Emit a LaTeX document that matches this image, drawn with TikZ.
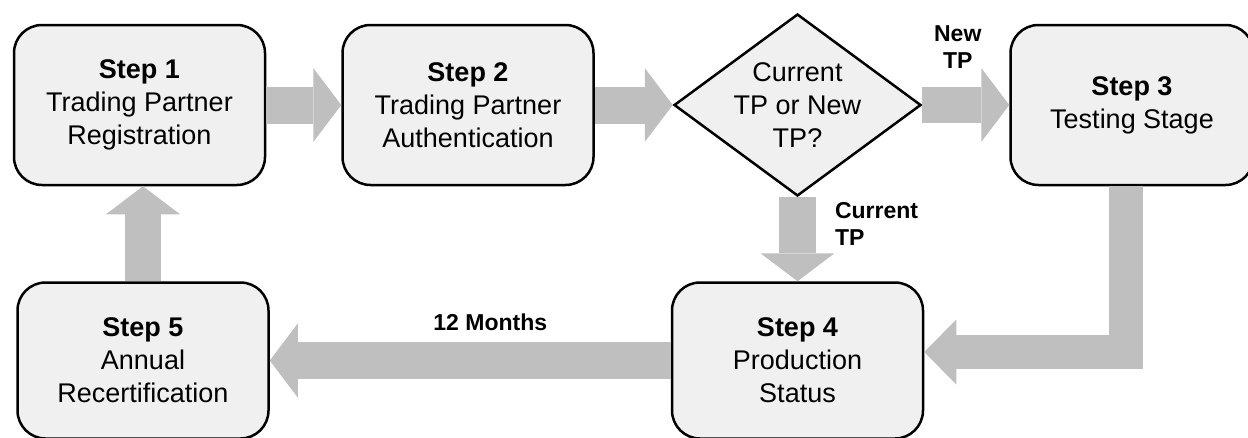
\documentclass[tikz,border=0pt]{standalone}
\usepackage{fontspec}
\setmainfont{Liberation Sans}
\usetikzlibrary{positioning}
\usetikzlibrary{arrows.meta}
\usetikzlibrary{shapes.geometric}

\tikzset{
  stepbox/.style={draw=black, line width=2.5pt, fill=black!6, rounded corners=28pt,
    minimum width=251pt, minimum height=160pt, align=center,
    font=\fontsize{27}{33}\selectfont},
  decision/.style={diamond, draw=black, line width=2.5pt, fill=black!6,
    minimum width=247pt, minimum height=182pt, inner sep=0pt},
  flow/.style={draw=black!25, line width=37pt,
    -{Triangle[width=74pt,length=28pt,line width=0pt]}},
  tag/.style={font=\fontsize{23}{27}\selectfont\bfseries, align=center, inner sep=0pt}
}

\begin{document}
\begin{tikzpicture}[x=1pt,y=-1pt]
\clip (0,0) rectangle (1248,437);
\node[stepbox] (reg) at (139.5,105) {\textbf{Step 1}\\Trading Partner\\Registration};
\node[stepbox, right=75pt of reg] (auth) {\textbf{Step 2}\\Trading Partner\\Authentication};
\node[decision, right=78pt of auth,
  label={[align=center, font=\fontsize{27}{33}\selectfont]center:Current\\TP or New\\TP?}] (dec) {};
\node[stepbox, right=87pt of dec, minimum width=243pt] (test) {\textbf{Step 3}\\Testing Stage};
\node[stepbox, below=84pt of dec, minimum height=156pt] (prod) {\textbf{Step 4}\\Production\\Status};
\node[stepbox, left=401pt of prod, minimum height=156pt] (recert) {\textbf{Step 5}\\Annual\\Recertification};
\coordinate (bend) at (1126,352);

\draw[flow] (reg) -- (auth);
\draw[flow] (auth) -- (dec);
\draw[flow, line width=36pt] (dec) -- node[tag, above=19pt, xshift=-8pt] {New\\TP} (test);
\draw[flow] (dec) -- node[tag, align=left, anchor=west, xshift=19pt, yshift=15pt] {Current\\TP} (prod);
\draw[flow, line width=34pt, line join=miter,
  -{Triangle[width=65pt,length=32pt,line width=0pt]}]
  (test.south -| bend) -- (bend) -- (prod.east |- bend);
\draw[flow] (prod) -- node[tag, pos=0.45, above=11pt] {12 Months} (recert);
\draw[flow, line width=36pt] (recert.north) -- (recert.north |- reg.south);
\end{tikzpicture}
\end{document}
